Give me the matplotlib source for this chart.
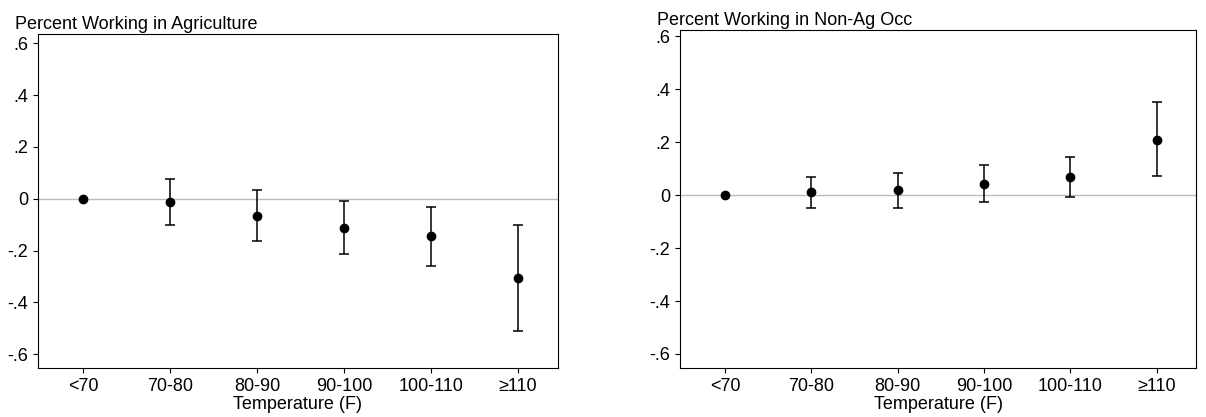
import matplotlib.pyplot as plt

plt.rcParams['font.family'] = ['Liberation Sans', 'DejaVu Sans']

cats = ['<70', '70-80', '80-90', '90-100', '100-110', '≥110']
ag_est = [0.0, -0.013, -0.068, -0.113, -0.145, -0.305]
ag_hi = [0.0, 0.078, 0.033, -0.010, -0.030, -0.100]
ag_lo = [0.0, -0.100, -0.165, -0.215, -0.258, -0.510]
non_est = [0.0, 0.010, 0.018, 0.043, 0.068, 0.210]
non_hi = [0.0, 0.068, 0.085, 0.113, 0.145, 0.350]
non_lo = [0.0, -0.050, -0.050, -0.027, -0.008, 0.072]
yticks = [-0.6, -0.4, -0.2, 0, 0.2, 0.4, 0.6]
ylabels = ['-.6', '-.4', '-.2', '0', '.2', '.4', '.6']

fig = plt.figure(figsize=(12.06, 4.17), dpi=100)
ax1 = fig.add_axes([0.0315, 0.1175, 0.431, 0.80])
ax2 = fig.add_axes([0.564, 0.1175, 0.428, 0.81])

panels = [(ax1, ag_est, ag_lo, ag_hi, 'Percent Working in Agriculture', (-0.654, 0.635)),
          (ax2, non_est, non_lo, non_hi, 'Percent Working in Non-Ag Occ', (-0.653, 0.623))]
for ax, est, lo, hi, title, ylim in panels:
    x = list(range(len(cats)))
    ax.axhline(0, color='#bbbbbb', lw=1, zorder=1)
    for i in x[1:]:
        ax.errorbar(i, est[i], yerr=[[est[i] - lo[i]], [hi[i] - est[i]]],
                    fmt='none', ecolor='black', elinewidth=1.1, capsize=3.5, capthick=1.1, zorder=2)
    ax.plot(x, est, 'o', color='black', ms=6, zorder=3)
    ax.set_xlim(-0.52, 5.46)
    ax.set_ylim(*ylim)
    ax.set_yticks(yticks)
    ax.set_yticklabels(ylabels, fontsize=13)
    ax.set_xticks(x)
    ax.set_xticklabels(cats, fontsize=13)
    ax.set_xlabel('Temperature (F)', fontsize=13, labelpad=1)
    ax.set_title(title, fontsize=13, loc='left', x=-0.045, pad=4)
    for s in ax.spines.values():
        s.set_linewidth(0.8)

fig.savefig('out.png', dpi=100)
